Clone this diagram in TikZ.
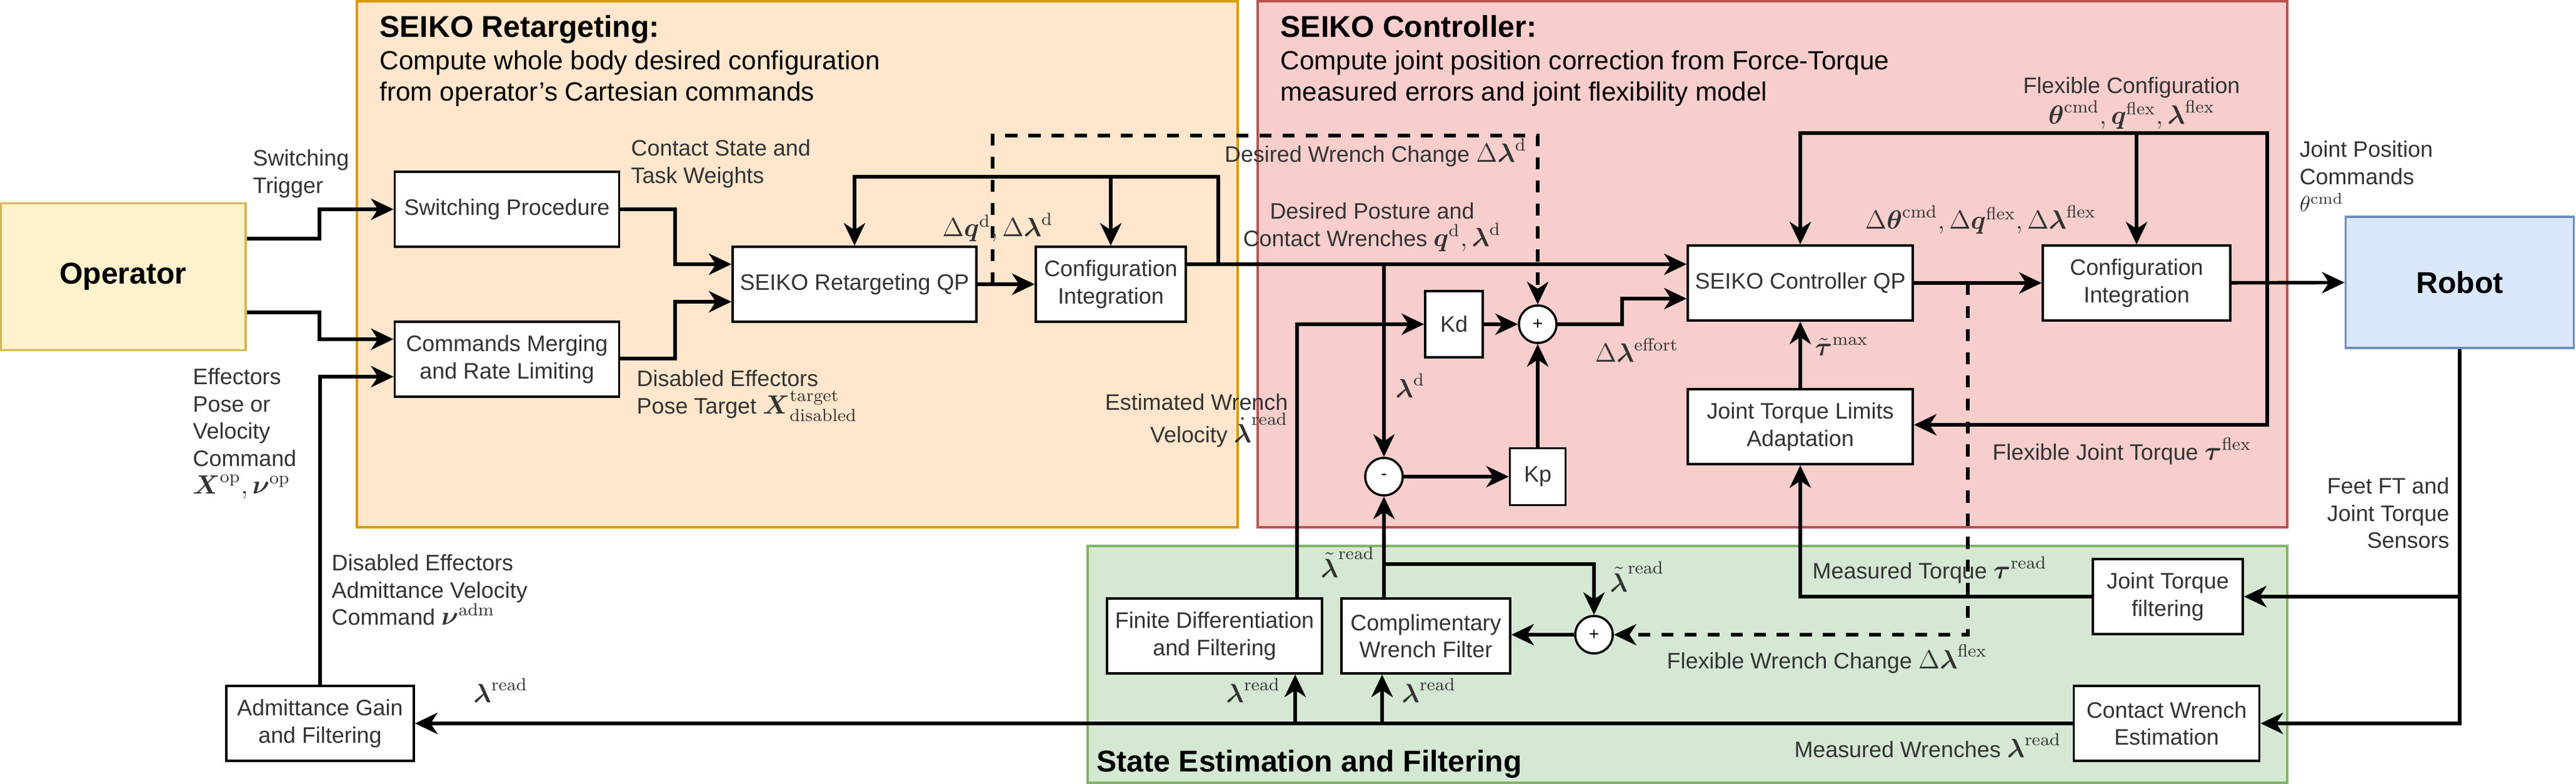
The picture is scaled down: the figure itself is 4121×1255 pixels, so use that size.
\documentclass[tikz,border=0pt]{standalone}
\usepackage[no-math]{fontspec}
\setmainfont{Liberation Sans}
\usepackage{amsmath}
\usetikzlibrary{arrows.meta}

\definecolor{retfill}{HTML}{FFE6CC}
\definecolor{retline}{HTML}{D79B00}
\definecolor{ctlfill}{HTML}{F8CECC}
\definecolor{ctlline}{HTML}{B85450}
\definecolor{estfill}{HTML}{D5E8D4}
\definecolor{estline}{HTML}{82B366}
\definecolor{opfill}{HTML}{FFF2CC}
\definecolor{opline}{HTML}{D6B656}
\definecolor{robfill}{HTML}{DAE8FC}
\definecolor{robline}{HTML}{6C8EBF}
\definecolor{txt}{HTML}{333333}

\newcommand{\mth}[1]{{\fontsize{12}{12}\selectfont$#1$}}
\newcommand{\blam}{\boldsymbol{\lambda}}

\begin{document}
\begin{tikzpicture}[x=0.01cm,y=-0.01cm,>={Stealth[length=3.6mm,width=3.4mm,inset=1.1mm]},
  font=\fontsize{10.2}{12.4}\selectfont,
  blk/.style={draw,line width=1pt,fill=white,text=txt,align=center,inner sep=2pt,minimum height=1.2cm},
  sumc/.style={draw,circle,line width=1pt,fill=white,minimum size=0.6cm,inner sep=0pt,font=\footnotesize},
  lbl/.style={text=txt,inner sep=0pt},
  ttl/.style={font=\fontsize{13.7}{16}\selectfont\bfseries,inner sep=0pt,anchor=base west},
  subttl/.style={font=\fontsize{12}{14.2}\selectfont,inner sep=0pt,anchor=north west,align=left},
  wire/.style={line width=1.6pt},
  dsh/.style={line width=1.6pt,dash pattern=on 5.5pt off 5pt}]
  \useasboundingbox (0,0) rectangle (4121,1255);

  \draw[retline,fill=retfill,line width=1pt] (571,2) rectangle (1980,844);
  \draw[ctlline,fill=ctlfill,line width=1pt] (2012,2) rectangle (3659,844);
  \draw[estline,fill=estfill,line width=1pt] (1740,874) rectangle (3659,1253);

  \node[ttl] (rett) at (607,60) {SEIKO Retargeting:};
  \node[subttl] (rets) at (607,80) {Compute whole body desired configuration\\from operator's Cartesian commands};
  \node[ttl] (ctlt) at (2048,60) {SEIKO Controller:};
  \node[subttl] (ctls) at (2048,80) {Compute joint position correction from Force-Torque\\measured errors and joint flexibility model};
  \node[ttl] (estt) at (1754,1235) {State Estimation and Filtering};

  \node[draw=opline,fill=opfill,line width=1pt,minimum width=3.92cm,minimum height=2.35cm,
        font=\fontsize{13.7}{16}\selectfont\bfseries] (op) at (197,443) {Operator};
  \node[draw=robline,fill=robfill,line width=1pt,minimum width=3.65cm,minimum height=2.1cm,
        font=\fontsize{13.7}{16}\selectfont\bfseries] (robot) at (3935,452) {Robot};

  \node[blk,minimum width=3.59cm] (swp) at (811,335) {Switching Procedure};
  \node[blk,minimum width=3.59cm] (cmd) at (811,575) {Commands Merging\\and Rate Limiting};
  \node[blk,minimum width=3.9cm] (rqp) at (1367,455) {SEIKO Retargeting QP};
  \node[blk,minimum width=2.4cm] (rci) at (1777,455) {Configuration\\Integration};
  \node[blk,minimum width=3.6cm] (cqp) at (2880,453) {SEIKO Controller QP};
  \node[blk,minimum width=3cm] (cci) at (3418,453) {Configuration\\Integration};
  \node[blk,minimum width=0.92cm,minimum height=1.06cm] (kd) at (2326,519) {Kd};
  \node[blk,minimum width=0.89cm,minimum height=0.91cm] (kp) at (2460,763) {Kp};
  \node[sumc] (pl1) at (2460,519) {+};
  \node[sumc] (mi) at (2214,763) {-};
  \node[blk,minimum width=3.6cm] (jtl) at (2880,683) {Joint Torque Limits\\Adaptation};
  \node[blk,minimum width=2.4cm] (jtf) at (3468,955) {Joint Torque\\filtering};
  \node[blk,minimum width=2.97cm] (cwe) at (3466,1158) {Contact Wrench\\Estimation};
  \node[blk,minimum width=3.44cm] (fdf) at (1943,1018) {Finite Differentiation\\and Filtering};
  \node[blk,minimum width=2.7cm] (cwf) at (2281,1018) {Complimentary\\Wrench Filter};
  \node[sumc] (pl2) at (2550,1016) {+};
  \node[blk,minimum width=3cm] (adm) at (512,1158) {Admittance Gain\\and Filtering};

  \coordinate (rfb) at (1949,423);
  \coordinate (ldb) at (2214,423);
  \coordinate (rds) at (1588,455);
  \coordinate (cds) at (3148,453);
  \coordinate (cfb) at (3627,453);
  \coordinate (lrb) at (2214,903);
  \coordinate (bus1) at (2072,1158);
  \coordinate (bus2) at (2211,1158);
  \coordinate (jtb) at (3935,955);

  \draw[wire,->] (op.east |- 0,382) -- (511,382) |- (swp.west);
  \draw[wire,->] (op.east |- 0,500) -- (511,500) |- (cmd.west |- 0,543);
  \draw[wire,->] (adm.north) |- (cmd.west |- 0,603);
  \draw[wire,->] (swp.east) -- (1080,335) |- (rqp.west |- 0,423);
  \draw[wire,->] (cmd.east |- 0,574) -- (1080,574) |- (rqp.west |- 0,483);
  \draw[wire,->] (rqp) -- (rci);
  \draw[wire,->] (rci.east |- 0,423) -- (cqp.west |- 0,423);
  \draw[wire,->] (rfb) |- (rqp.north |- 0,283) -- (rqp.north);
  \draw[wire,->] (rci.north |- 0,283) -- (rci.north);
  \draw[dsh,->] (rds) -- (1588,217) -| (pl1.north);
  \draw[wire,->] (ldb) -- (mi.north);
  \draw[wire,->] (fdf.north -| 2075,0) |- (kd.west);
  \draw[wire,->] (kd) -- (pl1);
  \draw[wire,->] (pl1.east) -- (2595,519) |- (cqp.west |- 0,478);
  \draw[wire,->] (mi) -- (kp);
  \draw[wire,->] (kp) -- (pl1);
  \draw[wire,->] (cwf.north -| mi) -- (mi.south);
  \draw[wire,->] (lrb) -| (pl2.north);
  \draw[wire,->] (pl2) -- (cwf.east |- pl2);
  \draw[dsh,->] (cds) |- (pl2.east);
  \draw[wire,->] (bus1) -- (fdf.south -| bus1);
  \draw[wire,->] (bus2) -- (cwf.south -| bus2);
  \draw[wire,->] (cqp) -- (cci);
  \draw[wire,->] (jtl) -- (cqp);
  \draw[wire,->] (cfb) |- (cqp.north |- 0,213) -- (cqp.north);
  \draw[wire,->] (cci.north |- 0,213) -- (cci.north);
  \draw[wire,->] (cfb) |- (jtl.east |- 0,680);
  \draw[wire,->] (cci) -- (robot);
  \draw[wire,->] (robot.south) |- (cwe.east);
  \draw[wire,->] (jtb) -- (jtf.east);
  \draw[wire,->] (jtf.west) -| (jtl.south);
  \draw[wire,->] (cwe) -- (adm);

  \node[lbl,align=left,anchor=north west] (trgl) at (404,239) {Switching\\Trigger};
  \node[lbl,align=left,anchor=north west] (effl) at (308,589) {Effectors\\Pose or\\Velocity\\Command\\\mth{\boldsymbol{X}^{\mathrm{op}}, \boldsymbol{\nu}^{\mathrm{op}}}};
  \node[lbl,align=left,anchor=north west] (cstl) at (1009,223) {Contact State and\\Task Weights};
  \node[lbl,align=left,anchor=north west] (dtgl) at (1018,592) {Disabled Effectors\\Pose Target \mth{\boldsymbol{X}^{\mathrm{target}}_{\mathrm{disabled}}}};
  \node[lbl,anchor=base west] (dql) at (1507,379) {\mth{\Delta\boldsymbol{q}^{\mathrm{d}}, \Delta\blam^{\mathrm{d}}}};
  \node[lbl,anchor=base east] (dwcl) at (2443,260) {Desired Wrench Change \mth{\Delta\blam^{\mathrm{d}}}};
  \node[lbl,align=center,anchor=north] (dpcl) at (2195,324) {Desired Posture and\\Contact Wrenches \mth{\boldsymbol{q}^{\mathrm{d}}, \blam^{\mathrm{d}}}};
  \node[lbl,align=right,anchor=north east] (ewvl) at (2061,630) {Estimated Wrench\\Velocity \mth{\dot{\blam}^{\mathrm{read}}}};
  \node[lbl,anchor=base west] (ldl) at (2232,636) {\mth{\blam^{\mathrm{d}}}};
  \node[lbl,anchor=base west] (efl) at (2551,580) {\mth{\Delta\blam^{\mathrm{effort}}}};
  \node[lbl,anchor=base west] (tml) at (2903,570) {\mth{\tilde{\boldsymbol{\tau}}^{\mathrm{max}}}};
  \node[lbl,anchor=base west] (dfl) at (2983,367) {\mth{\Delta\boldsymbol{\theta}^{\mathrm{cmd}}, \Delta\boldsymbol{q}^{\mathrm{flex}}, \Delta\blam^{\mathrm{flex}}}};
  \node[lbl,align=center,anchor=north] (fcl) at (3410,123) {Flexible Configuration\\\mth{\boldsymbol{\theta}^{\mathrm{cmd}}, \boldsymbol{q}^{\mathrm{flex}}, \blam^{\mathrm{flex}}}};
  \node[lbl,align=left,anchor=north west] (jpl) at (3678,225) {Joint Position\\Commands\\$\theta^{\mathrm{cmd}}$};
  \node[lbl,anchor=base west] (fjtl) at (3187,736) {Flexible Joint Torque \mth{\boldsymbol{\tau}^{\mathrm{flex}}}};
  \node[lbl,align=right,anchor=north east] (senl) at (3919,764) {Feet FT and\\Joint Torque\\Sensors};
  \node[lbl,anchor=base west] (mtl) at (2899,926) {Measured Torque \mth{\boldsymbol{\tau}^{\mathrm{read}}}};
  \node[lbl,anchor=base west] (fwl) at (2666,1070) {Flexible Wrench Change \mth{\Delta\blam^{\mathrm{flex}}}};
  \node[lbl,anchor=base east] (mwl) at (3298,1212) {Measured Wrenches \mth{\blam^{\mathrm{read}}}};
  \node[lbl,anchor=base east] (lt1) at (2200,924) {\mth{\tilde{\blam}^{\mathrm{read}}}};
  \node[lbl,anchor=base west] (lt2) at (2575,947) {\mth{\tilde{\blam}^{\mathrm{read}}}};
  \node[lbl,anchor=base west] (lr1) at (1961,1124) {\mth{\blam^{\mathrm{read}}}};
  \node[lbl,anchor=base west] (lr2) at (2242,1124) {\mth{\blam^{\mathrm{read}}}};
  \node[lbl,anchor=base west] (lr3) at (757,1124) {\mth{\blam^{\mathrm{read}}}};
  \node[lbl,align=left,anchor=north west] (avl) at (530,887) {Disabled Effectors\\Admittance Velocity\\Command \mth{\boldsymbol{\nu}^{\mathrm{adm}}}};
\end{tikzpicture}
\end{document}
